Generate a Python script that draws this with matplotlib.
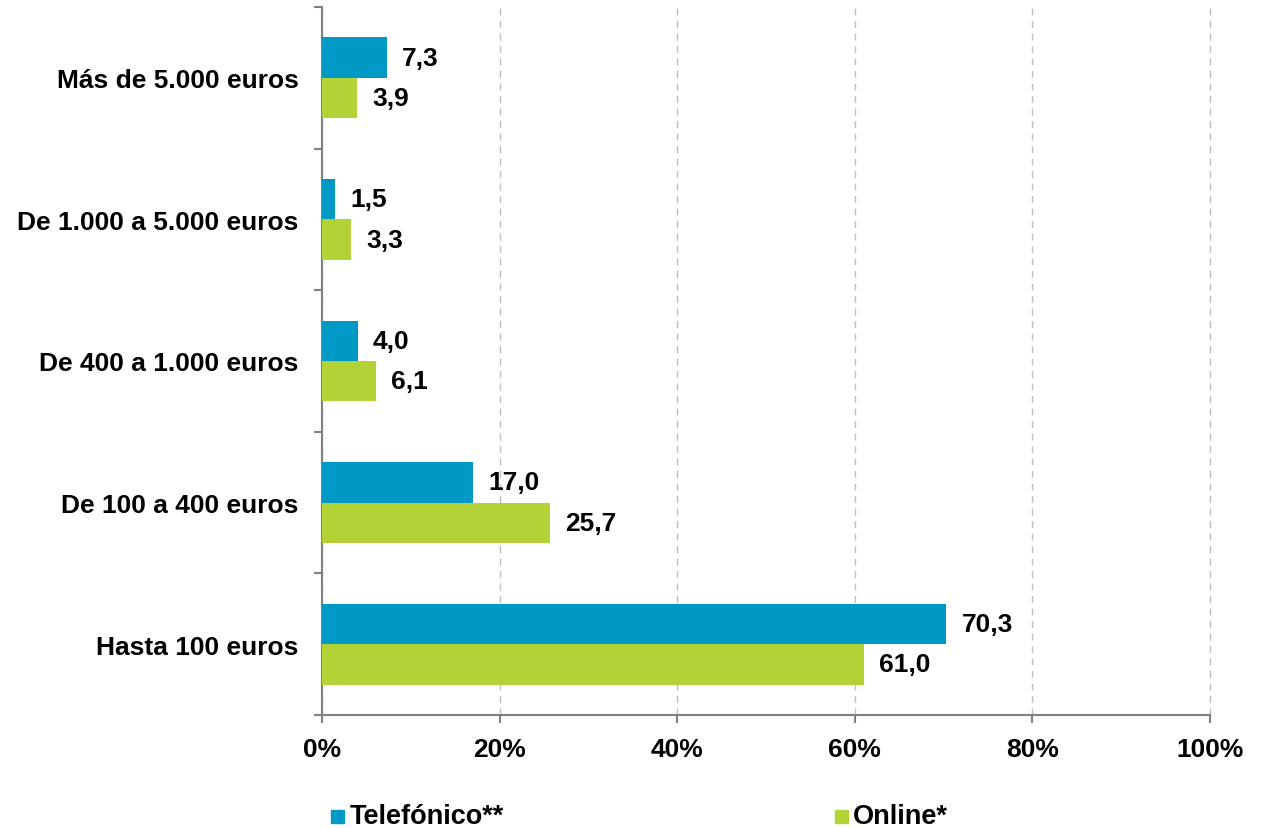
import matplotlib
matplotlib.use("Agg")
import matplotlib.pyplot as plt
from matplotlib.patches import Rectangle
import numpy as np

categories = ["Hasta 100 euros", "De 100 a 400 euros", "De 400 a 1.000 euros",
              "De 1.000 a 5.000 euros", "Más de 5.000 euros"]
telefonico = [70.3, 17.0, 4.0, 1.5, 7.3]
online = [61.0, 25.7, 6.1, 3.3, 3.9]
series_names = ["Telefónico**", "Online*"]
xticks = [0, 20, 40, 60, 80, 100]
xtick_labels = ["0%", "20%", "40%", "60%", "80%", "100%"]

blue = "#0099C6"
green = "#B3D235"
FS = 19

plt.rcParams['font.family'] = ['Liberation Sans', 'DejaVu Sans']
plt.rcParams['font.weight'] = 'bold'

fig = plt.figure(figsize=(12.61, 8.29), dpi=100)
ax = fig.add_axes([322/1261, 1-716/829, (1210-322)/1261, (716-8)/829])

y = np.arange(len(categories))
h = 0.285
b1 = ax.barh(y + h/2, telefonico, height=h, color=blue, label=series_names[0], zorder=3)
b2 = ax.barh(y - h/2, online, height=h, color=green, label=series_names[1], zorder=3)

def fmt(v):
    return f"{v:.1f}".replace(".", ",")

for bars, vals in ((b1, telefonico), (b2, online)):
    for bar, v in zip(bars, vals):
        ax.annotate(fmt(v), (bar.get_width(), bar.get_y() + bar.get_height()/2),
                    xytext=(11, 0), textcoords="offset points", va="center", ha="left",
                    fontsize=FS, fontweight="bold", color="black")

ax.set_xlim(0, 100)
ax.set_ylim(-0.5, len(categories) - 0.5)
ax.set_xticks(xticks)
ax.set_xticklabels(xtick_labels, fontsize=FS, fontweight="bold")
ax.set_yticks(y)
ax.set_yticklabels(categories, fontsize=FS, fontweight="bold")
ax.tick_params(axis="y", which="major", length=0, pad=17)
ax.set_yticks(np.arange(-0.5, len(categories), 1.0), minor=True)
ax.tick_params(axis="y", which="minor", length=6, width=1.5, color="#808080", direction="out")
ax.tick_params(axis="x", length=6, width=1.5, color="#808080", direction="out", pad=10)

ax.xaxis.grid(True, linestyle=(0, (5, 4)), color="#BFBFBF", linewidth=1.0, zorder=0)
for gl in ax.get_xgridlines():
    gl.set_clip_on(False)
ax.set_axisbelow(True)
for s in ("top", "right"):
    ax.spines[s].set_visible(False)
for s in ("left", "bottom"):
    ax.spines[s].set_color("#808080")
    ax.spines[s].set_linewidth(1.5)

# legend
for (x0, tx), name, col in zip(((331, 350), (835, 853)), series_names, (blue, green)):
    fig.patches.append(Rectangle((x0/1261, 1-824/829), 13/1261, 13/829,
                                 transform=fig.transFigure, color=col, figure=fig))
    fig.text(tx/1261, 1-817/829, name, fontsize=19.5, fontweight="bold", va="center", ha="left")

fig.savefig("out.png", dpi=100)
